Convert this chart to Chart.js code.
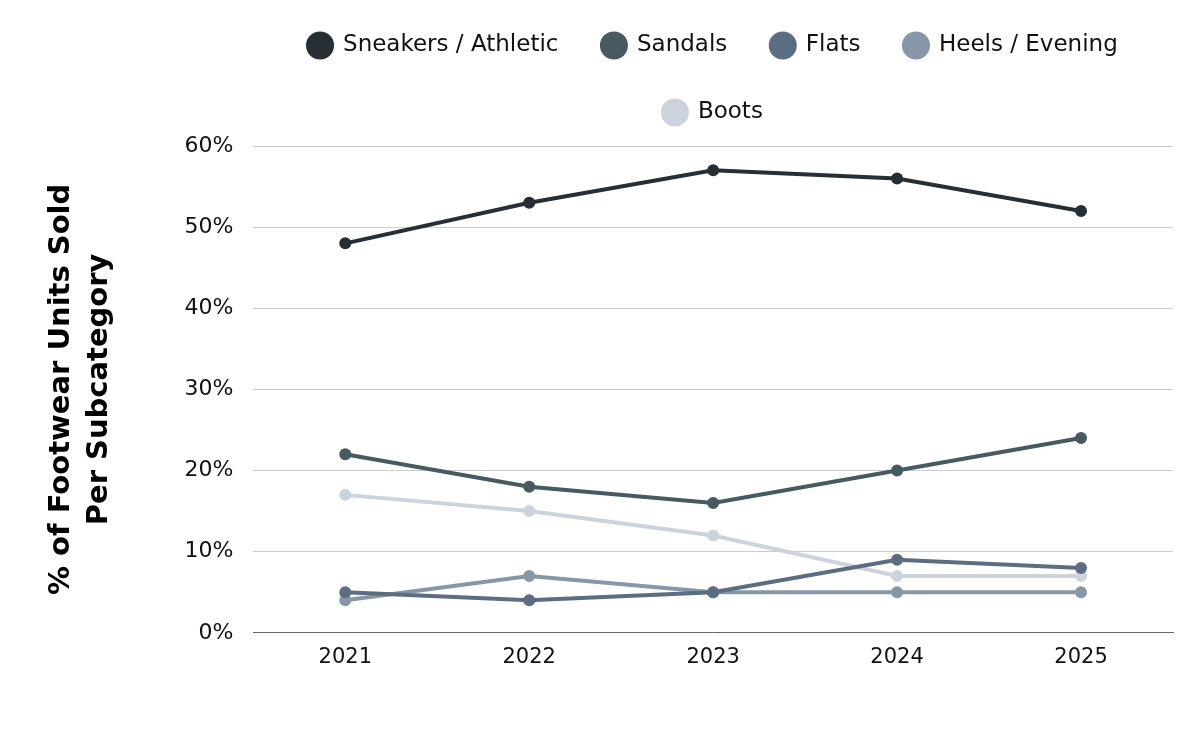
<!DOCTYPE html>
<html>
<head>
<meta charset="utf-8">
<script src="https://cdn.jsdelivr.net/npm/chart.js@4"></script>
<style>
  html, body { margin: 0; padding: 0; background: #fff; }
  #wrap { width: 1200px; height: 750px; }
</style>
</head>
<body>
<div id="wrap"><canvas id="myChart" width="1200" height="750"></canvas></div>
<script>
const years = ['2021', '2022', '2023', '2024', '2025'];
const sneakers = [48, 53, 57, 56, 52];
const sandals = [22, 18, 16, 20, 24];
const flats = [5, 4, 5, 9, 8];
const heels = [4, 7, 5, 5, 5];
const boots = [17, 15, 12, 7, 7];
const yTicks = [0, 10, 20, 30, 40, 50, 60];

function series(label, data, color) {
  return {
    label: label,
    data: data,
    borderColor: color,
    backgroundColor: color,
    borderWidth: 4,
    pointRadius: 4,
    pointHoverRadius: 5,
    pointStyle: 'circle',
    tension: 0
  };
}

// a bit more room under the legend than chart.js gives
const legendGap = {
  id: 'legendGap',
  beforeLayout(chart) {
    const lg = chart.legend;
    if (lg && !lg._gap) {
      const fit = lg.fit;
      lg.fit = function() { fit.call(this); this.height += 12; };
      lg._gap = true;
    }
  }
};

Chart.defaults.font.family = '"DejaVu Sans", "Noto Sans", sans-serif';
Chart.defaults.color = '#111';

const ctx = document.getElementById('myChart').getContext('2d');
let myChart = new Chart(ctx, {
  type: 'line',
  data: {
    labels: years,
    datasets: [
      series('Sneakers / Athletic', sneakers, '#262e36'),
      series('Sandals', sandals, '#475a62'),
      series('Flats', flats, '#5b6d80'),
      series('Heels / Evening', heels, '#8797a8'),
      series('Boots', boots, '#cdd3dc')
    ]
  },
  plugins: [legendGap],
  options: {
    responsive: false,
    animation: false,
    layout: { padding: { left: 43, right: 27, top: -10, bottom: 76 } },
    scales: {
      x: {
        offset: true,
        grid: { display: false },
        border: { color: '#666', width: 1 },
        ticks: { font: { size: 21 }, color: '#111', padding: 4 }
      },
      y: {
        min: 0,
        max: 60,
        afterBuildTicks: axis => { axis.ticks = yTicks.map(v => ({ value: v })); },
        grid: { color: '#cccccc', lineWidth: 1, drawTicks: false },
        border: { display: false },
        ticks: {
          font: { size: 22 },
          color: '#111',
          padding: 20,
          callback: v => v + '%'
        },
        title: {
          display: true,
          text: ['% of Footwear Units Sold', 'Per Subcategory'],
          font: { size: 29, weight: 'bold', lineHeight: 1.3 },
          color: '#000',
          padding: { top: 0, bottom: 46 }
        }
      }
    },
    plugins: {
      legend: {
        position: 'top',
        fullSize: false,
        labels: {
          usePointStyle: true,
          boxHeight: 17,
          font: { size: 23 },
          color: '#111',
          padding: 44
        }
      },
      tooltip: { enabled: false }
    }
  }
});
</script>
</body>
</html>
